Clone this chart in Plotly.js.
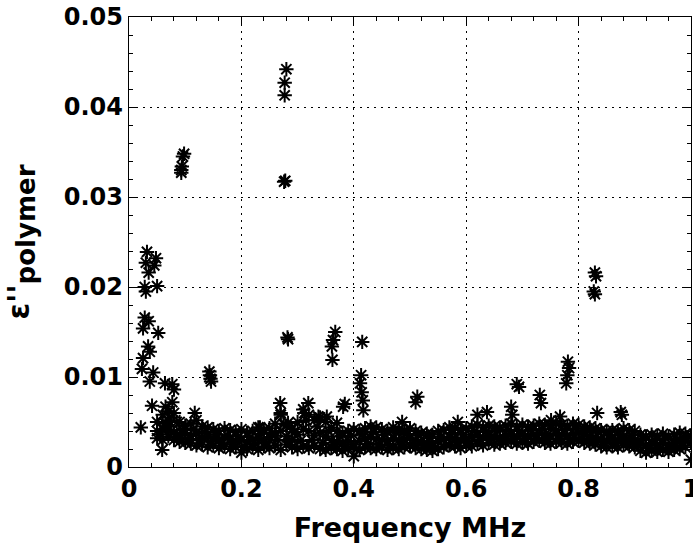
<!DOCTYPE html>
<html>
<head>
<meta charset="utf-8">
<script src="https://cdn.plot.ly/plotly-3.0.1.min.js"></script>
<style>html,body{margin:0;padding:0;background:#fff;}#chart{width:693px;height:547px;}</style>
</head>
<body>
<div id="chart"></div>
<script>
// Frequencies (MHz) of the main sweep band
const freq = [0.05,0.06,0.07,0.08,0.09,0.10,0.11,0.12,0.13,0.14,0.15,0.16,0.17,0.18,0.19,0.20,
  0.21,0.22,0.23,0.24,0.25,0.26,0.27,0.28,0.29,0.30,0.31,0.32,0.33,0.34,0.35,0.36,0.37,0.38,0.39,0.40,
  0.41,0.42,0.43,0.44,0.45,0.46,0.47,0.48,0.49,0.50,0.51,0.52,0.53,0.54,0.55,0.56,0.57,0.58,0.59,0.60,
  0.61,0.62,0.63,0.64,0.65,0.66,0.67,0.68,0.69,0.70,0.71,0.72,0.73,0.74,0.75,0.76,0.77,0.78,0.79,0.80,
  0.81,0.82,0.83,0.84,0.85,0.86,0.87,0.88,0.89,0.90,0.91,0.92,0.93,0.94,0.95,0.96,0.97,0.98,0.99,1.00];

const sweepA = [0.0050,0.0058,0.0052,0.0060,0.0050,0.0046,0.0048,0.0052,0.0045,0.0044,0.0042,0.0040,0.0043,0.0041,0.0039,0.0042,
  0.0038,0.0040,0.0044,0.0041,0.0043,0.0048,0.0058,0.0046,0.0042,0.0050,0.0064,0.0058,0.0052,0.0055,0.0050,0.0044,0.0040,0.0038,0.0040,0.0042,
  0.0040,0.0043,0.0045,0.0044,0.0042,0.0040,0.0044,0.0041,0.0040,0.0043,0.0040,0.0038,0.0037,0.0036,0.0040,0.0041,0.0044,0.0043,0.0041,0.0043,
  0.0045,0.0047,0.0044,0.0046,0.0045,0.0044,0.0046,0.0048,0.0045,0.0047,0.0045,0.0046,0.0048,0.0047,0.0046,0.0048,0.0047,0.0046,0.0048,0.0047,
  0.0045,0.0044,0.0043,0.0041,0.0040,0.0041,0.0040,0.0043,0.0041,0.0040,0.0036,0.0034,0.0036,0.0035,0.0037,0.0034,0.0036,0.0038,0.0037,0.0035];

const sweepB = [0.0040,0.0042,0.0045,0.0038,0.0036,0.0038,0.0035,0.0037,0.0033,0.0034,0.0032,0.0030,0.0033,0.0031,0.0029,0.0030,
  0.0028,0.0030,0.0032,0.0031,0.0033,0.0035,0.0040,0.0034,0.0030,0.0036,0.0042,0.0040,0.0035,0.0038,0.0034,0.0030,0.0028,0.0027,0.0029,0.0025,
  0.0029,0.0032,0.0033,0.0031,0.0030,0.0029,0.0032,0.0030,0.0031,0.0032,0.0030,0.0028,0.0027,0.0026,0.0029,0.0030,0.0033,0.0032,0.0030,0.0032,
  0.0034,0.0035,0.0033,0.0035,0.0034,0.0033,0.0035,0.0036,0.0034,0.0036,0.0035,0.0036,0.0037,0.0036,0.0035,0.0037,0.0036,0.0035,0.0037,0.0038,
  0.0036,0.0034,0.0033,0.0031,0.0030,0.0031,0.0030,0.0033,0.0031,0.0030,0.0026,0.0024,0.0026,0.0025,0.0027,0.0024,0.0026,0.0028,0.0029,0.0027];

const sweepC = [0.0032,0.0030,0.0034,0.0030,0.0028,0.0027,0.0026,0.0024,0.0025,0.0022,0.0024,0.0021,0.0023,0.0020,0.0022,0.0016,
  0.0020,0.0022,0.0019,0.0023,0.0021,0.0024,0.0019,0.0025,0.0022,0.0020,0.0023,0.0021,0.0024,0.0020,0.0019,0.0021,0.0020,0.0018,0.0021,0.0012,
  0.0019,0.0022,0.0021,0.0020,0.0022,0.0019,0.0021,0.0020,0.0022,0.0023,0.0021,0.0020,0.0019,0.0018,0.0020,0.0022,0.0024,0.0023,0.0021,0.0024,
  0.0023,0.0026,0.0024,0.0027,0.0025,0.0026,0.0027,0.0028,0.0026,0.0027,0.0026,0.0028,0.0029,0.0027,0.0026,0.0028,0.0027,0.0026,0.0028,0.0029,
  0.0027,0.0026,0.0025,0.0023,0.0022,0.0023,0.0022,0.0024,0.0023,0.0022,0.0018,0.0016,0.0018,0.0017,0.0019,0.0017,0.0019,0.0020,0.0022,0.0008];

// Interleaved sweep, half a step offset
const freqMid = [0.055,0.065,0.075,0.085,0.095,0.105,0.115,0.125,0.135,0.145,0.155,0.165,0.175,0.185,0.195,
  0.205,0.215,0.225,0.235,0.245,0.255,0.265,0.275,0.285,0.295,0.305,0.315,0.325,0.335,0.345,0.355,0.365,0.375,0.385,0.395,
  0.405,0.415,0.425,0.435,0.445,0.455,0.465,0.475,0.485,0.495,0.505,0.515,0.525,0.535,0.545,0.555,0.565,0.575,0.585,0.595,
  0.605,0.615,0.625,0.635,0.645,0.655,0.665,0.675,0.685,0.695,0.705,0.715,0.725,0.735,0.745,0.755,0.765,0.775,0.785,0.795,
  0.805,0.815,0.825,0.835,0.845,0.855,0.865,0.875,0.885,0.895,0.905,0.915,0.925,0.935,0.945,0.955,0.965,0.975,0.985,0.995];
const sweepD = [0.0036,0.0048,0.0040,0.0033,0.0041,0.0031,0.0042,0.0030,0.0039,0.0028,0.0036,0.0026,0.0035,0.0025,0.0034,
  0.0023,0.0033,0.0026,0.0037,0.0027,0.0038,0.0030,0.0048,0.0028,0.0039,0.0029,0.0052,0.0030,0.0045,0.0027,0.0040,0.0025,0.0034,0.0023,0.0035,
  0.0020,0.0036,0.0026,0.0039,0.0025,0.0036,0.0024,0.0038,0.0025,0.0037,0.0026,0.0035,0.0024,0.0032,0.0022,0.0034,0.0025,0.0038,0.0027,0.0036,
  0.0028,0.0040,0.0030,0.0039,0.0031,0.0040,0.0030,0.0041,0.0032,0.0040,0.0031,0.0041,0.0032,0.0042,0.0031,0.0042,0.0032,0.0041,0.0031,0.0043,
  0.0032,0.0040,0.0029,0.0038,0.0027,0.0035,0.0026,0.0036,0.0028,0.0035,0.0025,0.0031,0.0021,0.0030,0.0021,0.0032,0.0021,0.0031,0.0024,0.0033];

// Scattered points away from the main band
const spikeFreq = [0.021,
  0.028,0.030,0.032,0.030,0.035,0.045,0.048,0.050,
  0.028,0.035,0.025,0.052,
  0.034,0.037,0.025,0.023,0.043,0.037,
  0.041,0.059,
  0.064,0.077,0.080,0.065,0.077,0.070,
  0.093,0.093,0.094,0.096,0.098,
  0.117,
  0.144,0.145,0.143,0.146,
  0.277,0.277,0.280,0.276,0.278,
  0.283,0.282,
  0.367,0.363,0.361,0.362,
  0.381,0.384,
  0.415,0.413,0.411,0.414,0.416,0.417,
  0.513,0.510,
  0.694,0.690,
  0.731,0.733,
  0.781,0.783,0.780,0.778,
  0.829,0.831,0.827,0.829,
  0.833,0.877,0.875,
  0.680,0.682,
  0.637,0.620,0.585,0.486,0.751,0.767,
  0.269,0.270,0.319,0.312,0.337,0.352,0.283,0.370,0.233,0.072,0.085];
const spikeVal = [0.0044,
  0.0200,0.0195,0.0239,0.0227,0.0216,0.0224,0.0232,0.0201,
  0.0166,0.0162,0.0154,0.0149,
  0.0134,0.0128,0.0121,0.0109,0.0105,0.0095,
  0.0068,0.0019,
  0.0093,0.0092,0.0086,0.0067,0.0072,0.0062,
  0.0327,0.0330,0.0334,0.0345,0.0348,
  0.0060,
  0.0102,0.0098,0.0106,0.0095,
  0.0413,0.0427,0.0442,0.0317,0.0318,
  0.0142,0.0144,
  0.0150,0.0141,0.0134,0.0119,
  0.0067,0.0070,
  0.0139,0.0102,0.0093,0.0083,0.0074,0.0063,
  0.0078,0.0072,
  0.0089,0.0092,
  0.0080,0.0071,
  0.0117,0.0110,0.0102,0.0093,
  0.0216,0.0212,0.0195,0.0192,
  0.0060,0.0058,0.0061,
  0.0067,0.0058,
  0.0061,0.0058,0.0050,0.0050,0.0052,0.0056,
  0.0071,0.0060,0.0071,0.0060,0.0056,0.0056,0.0049,0.0049,0.0044,0.0055,0.0050];

const xTicks = [0, 0.2, 0.4, 0.6, 0.8, 1];
const xTickText = ['0', '0.2', '0.4', '0.6', '0.8', '1'];
const yTicks = [0, 0.01, 0.02, 0.03, 0.04, 0.05];
const yTickText = ['0', '0.01', '0.02', '0.03', '0.04', '0.05'];

const mk = {symbol: 'asterisk-open', size: 12, color: '#000', line: {color: '#000', width: 2}};
function tr(x, y) { return {x: x, y: y, type: 'scatter', mode: 'markers', marker: mk, showlegend: false, hoverinfo: 'skip'}; }

const data = [tr(freq, sweepA), tr(freq, sweepB), tr(freq, sweepC), tr(freqMid, sweepD), tr(spikeFreq, spikeVal)];

const fam = '"DejaVu Sans", Arial, sans-serif';
const font = {family: fam, size: 24, color: '#000', weight: 'bold'};
const axisCommon = {
  showline: true, linecolor: '#000', linewidth: 1.2, mirror: 'ticks',
  ticks: 'inside', ticklen: 7, tickcolor: '#000', tickwidth: 1,
  showgrid: true, gridcolor: '#000', gridwidth: 1, griddash: '1.5px,5.5px',
  zeroline: false, tickfont: font, fixedrange: true, ticklabeloverflow: 'allow'
};

const layout = {
  width: 693, height: 547,
  margin: {l: 129, r: 2, t: 17, b: 80},
  paper_bgcolor: '#fff', plot_bgcolor: '#fff',
  font: font,
  xaxis: Object.assign({}, axisCommon, {
    range: [0, 1], tickmode: 'array', tickvals: xTicks, ticktext: xTickText,
    minor: {dtick: 0.04, ticks: 'inside', ticklen: 4, tickcolor: '#000', showgrid: false},
    title: {text: 'Frequency MHz', font: {family: fam, size: 27, color: '#000', weight: 'bold'}, standoff: 16}
  }),
  yaxis: Object.assign({}, axisCommon, {
    range: [0, 0.05], tickmode: 'array', tickvals: yTicks, ticktext: yTickText,
    minor: {dtick: 0.002, ticks: 'inside', ticklen: 4, tickcolor: '#000', showgrid: false},
    title: {text: "ε''<sub><span style=\"font-size:26px\">polymer</span></sub>", font: {family: fam, size: 30, color: '#000', weight: 'bold'}, standoff: 25}
  })
};

Plotly.newPlot('chart', data, layout, {staticPlot: true, displayModeBar: false});
</script>
</body>
</html>
